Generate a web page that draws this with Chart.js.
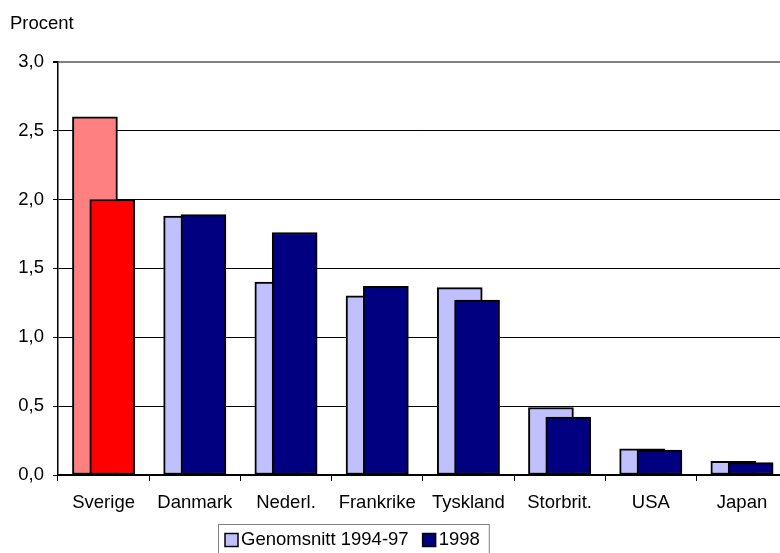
<!DOCTYPE html>
<html>
<head>
<meta charset="utf-8">
<script src="https://cdn.jsdelivr.net/npm/chart.js@4"></script>
<style>
  html, body { margin: 0; padding: 0; background: #fff; overflow: hidden; }
  #wrap { width: 790px; height: 553px; }
</style>
</head>
<body>
<div id="wrap"><canvas id="myChart" width="790" height="553"></canvas></div>
<script>
var categories = ["Sverige", "Danmark", "Nederl.", "Frankrike", "Tyskland", "Storbrit.", "USA", "Japan"];
var avg9497 = [2.6, 1.88, 1.4, 1.3, 1.36, 0.49, 0.19, 0.1];
var y1998 = [2.0, 1.89, 1.76, 1.37, 1.27, 0.42, 0.18, 0.09];
var yTicks = [0, 0.5, 1, 1.5, 2, 2.5, 3];

var lightColor = "#C0C0FF";
var darkColor = "#000080";
var lightSwe = "#FF8080";
var darkSwe = "#FF0000";
var font = "Liberation Sans, Arial, sans-serif";

// bar shift from the category centre, in fractions of a category
var shift = 0.095;

var lightColors = categories.map(function (c, i) { return i === 0 ? lightSwe : lightColor; });
var darkColors = categories.map(function (c, i) { return i === 0 ? darkSwe : darkColor; });
function points(values) {
  return values.map(function (v, i) { return { x: i, y: v }; });
}

// boxed legend under the chart
var framedLegend = {
  id: "framedLegend",
  afterDraw: function (chart, args, opts) {
    var ctx = chart.ctx;
    var items = chart.data.datasets.filter(function (d) { return d.label; });
    ctx.save();
    ctx.font = opts.fontSize + "px " + font;
    ctx.textBaseline = "middle";
    var box = 13, gap = 3, space = 14;
    var w = 0;
    items.forEach(function (d, i) {
      w += box + gap + ctx.measureText(d.label).width + (i ? space : 0);
    });
    ctx.strokeStyle = "#808080";
    ctx.lineWidth = 1;
    ctx.strokeRect(opts.left + 0.5, opts.top + 0.5, w + opts.padL + opts.padR, 50);
    var x = opts.left + opts.padL;
    var cy = opts.top + 16;
    items.forEach(function (d) {
      ctx.fillStyle = d.legendColor;
      ctx.fillRect(x, cy - box / 2, box, box);
      ctx.strokeStyle = "#000";
      ctx.lineWidth = 1.5;
      ctx.strokeRect(x, cy - box / 2, box, box);
      x += box + gap;
      ctx.fillStyle = "#000";
      ctx.fillText(d.label, x, cy);
      x += ctx.measureText(d.label).width + space;
    });
    ctx.restore();
  }
};

// hidden linear axis, moved sideways so its bars sit off the category centre
function hiddenAxis(offset) {
  return {
    type: "linear",
    display: false,
    offset: false,
    min: -0.5 - offset,
    max: categories.length - 0.5 - offset
  };
}

new Chart("myChart", {
  type: "bar",
  data: {
    labels: categories,
    datasets: [
      { label: "Genomsnitt 1994-97", data: points(avg9497), backgroundColor: lightColors, legendColor: lightColor, xAxisID: "xa", order: 1 },
      { label: "1998", data: points(y1998), backgroundColor: darkColors, legendColor: darkColor, xAxisID: "xb", order: 0 }
    ]
  },
  options: {
    responsive: false,
    animation: false,
    layout: { padding: { left: 10, right: 2.4, bottom: 0 } },
    datasets: {
      bar: {
        borderColor: "#000",
        borderWidth: 2,
        borderSkipped: false,
        grouped: false,
        barThickness: 45
      }
    },
    plugins: {
      legend: { display: false },
      tooltip: { enabled: false },
      title: {
        display: true,
        text: "Procent",
        align: "start",
        color: "#000",
        font: { family: font, size: 18.5, weight: "normal" },
        padding: { top: 13, bottom: 26.5 }
      },
      framedLegend: { left: 218, top: 524, padL: 7, padR: 9, fontSize: 18.5 }
    },
    scales: {
      x: {
        type: "category",
        labels: categories,
        offset: true,
        grid: { offset: true, drawOnChartArea: false, drawTicks: true, tickLength: 6, color: "#000" },
        border: { color: "#000", width: 2 },
        ticks: { color: "#000", font: { family: font, size: 18.5 }, padding: 11, maxRotation: 0, autoSkip: false },
        afterFit: function (scale) { scale.height = 78; }
      },
      xa: hiddenAxis(-shift),
      xb: hiddenAxis(shift),
      y: {
        min: 0,
        max: 3,
        afterBuildTicks: function (scale) {
          scale.ticks = yTicks.map(function (v) { return { value: v }; });
        },
        grid: {
          color: function (c) { return c.tick && c.tick.value === 3 ? "#808080" : "#000"; },
          lineWidth: function (c) { return c.tick && c.tick.value === 3 ? 2 : 1; },
          tickColor: "#000",
          tickLength: 5
        },
        border: { color: "#000", width: 1.5 },
        ticks: {
          color: "#000",
          font: { family: font, size: 18.5 },
          padding: 9,
          callback: function (v) { return v.toFixed(1).replace(".", ","); }
        },
        afterFit: function (scale) { scale.width = 48; }
      }
    }
  },
  plugins: [framedLegend]
});
</script>
</body>
</html>
